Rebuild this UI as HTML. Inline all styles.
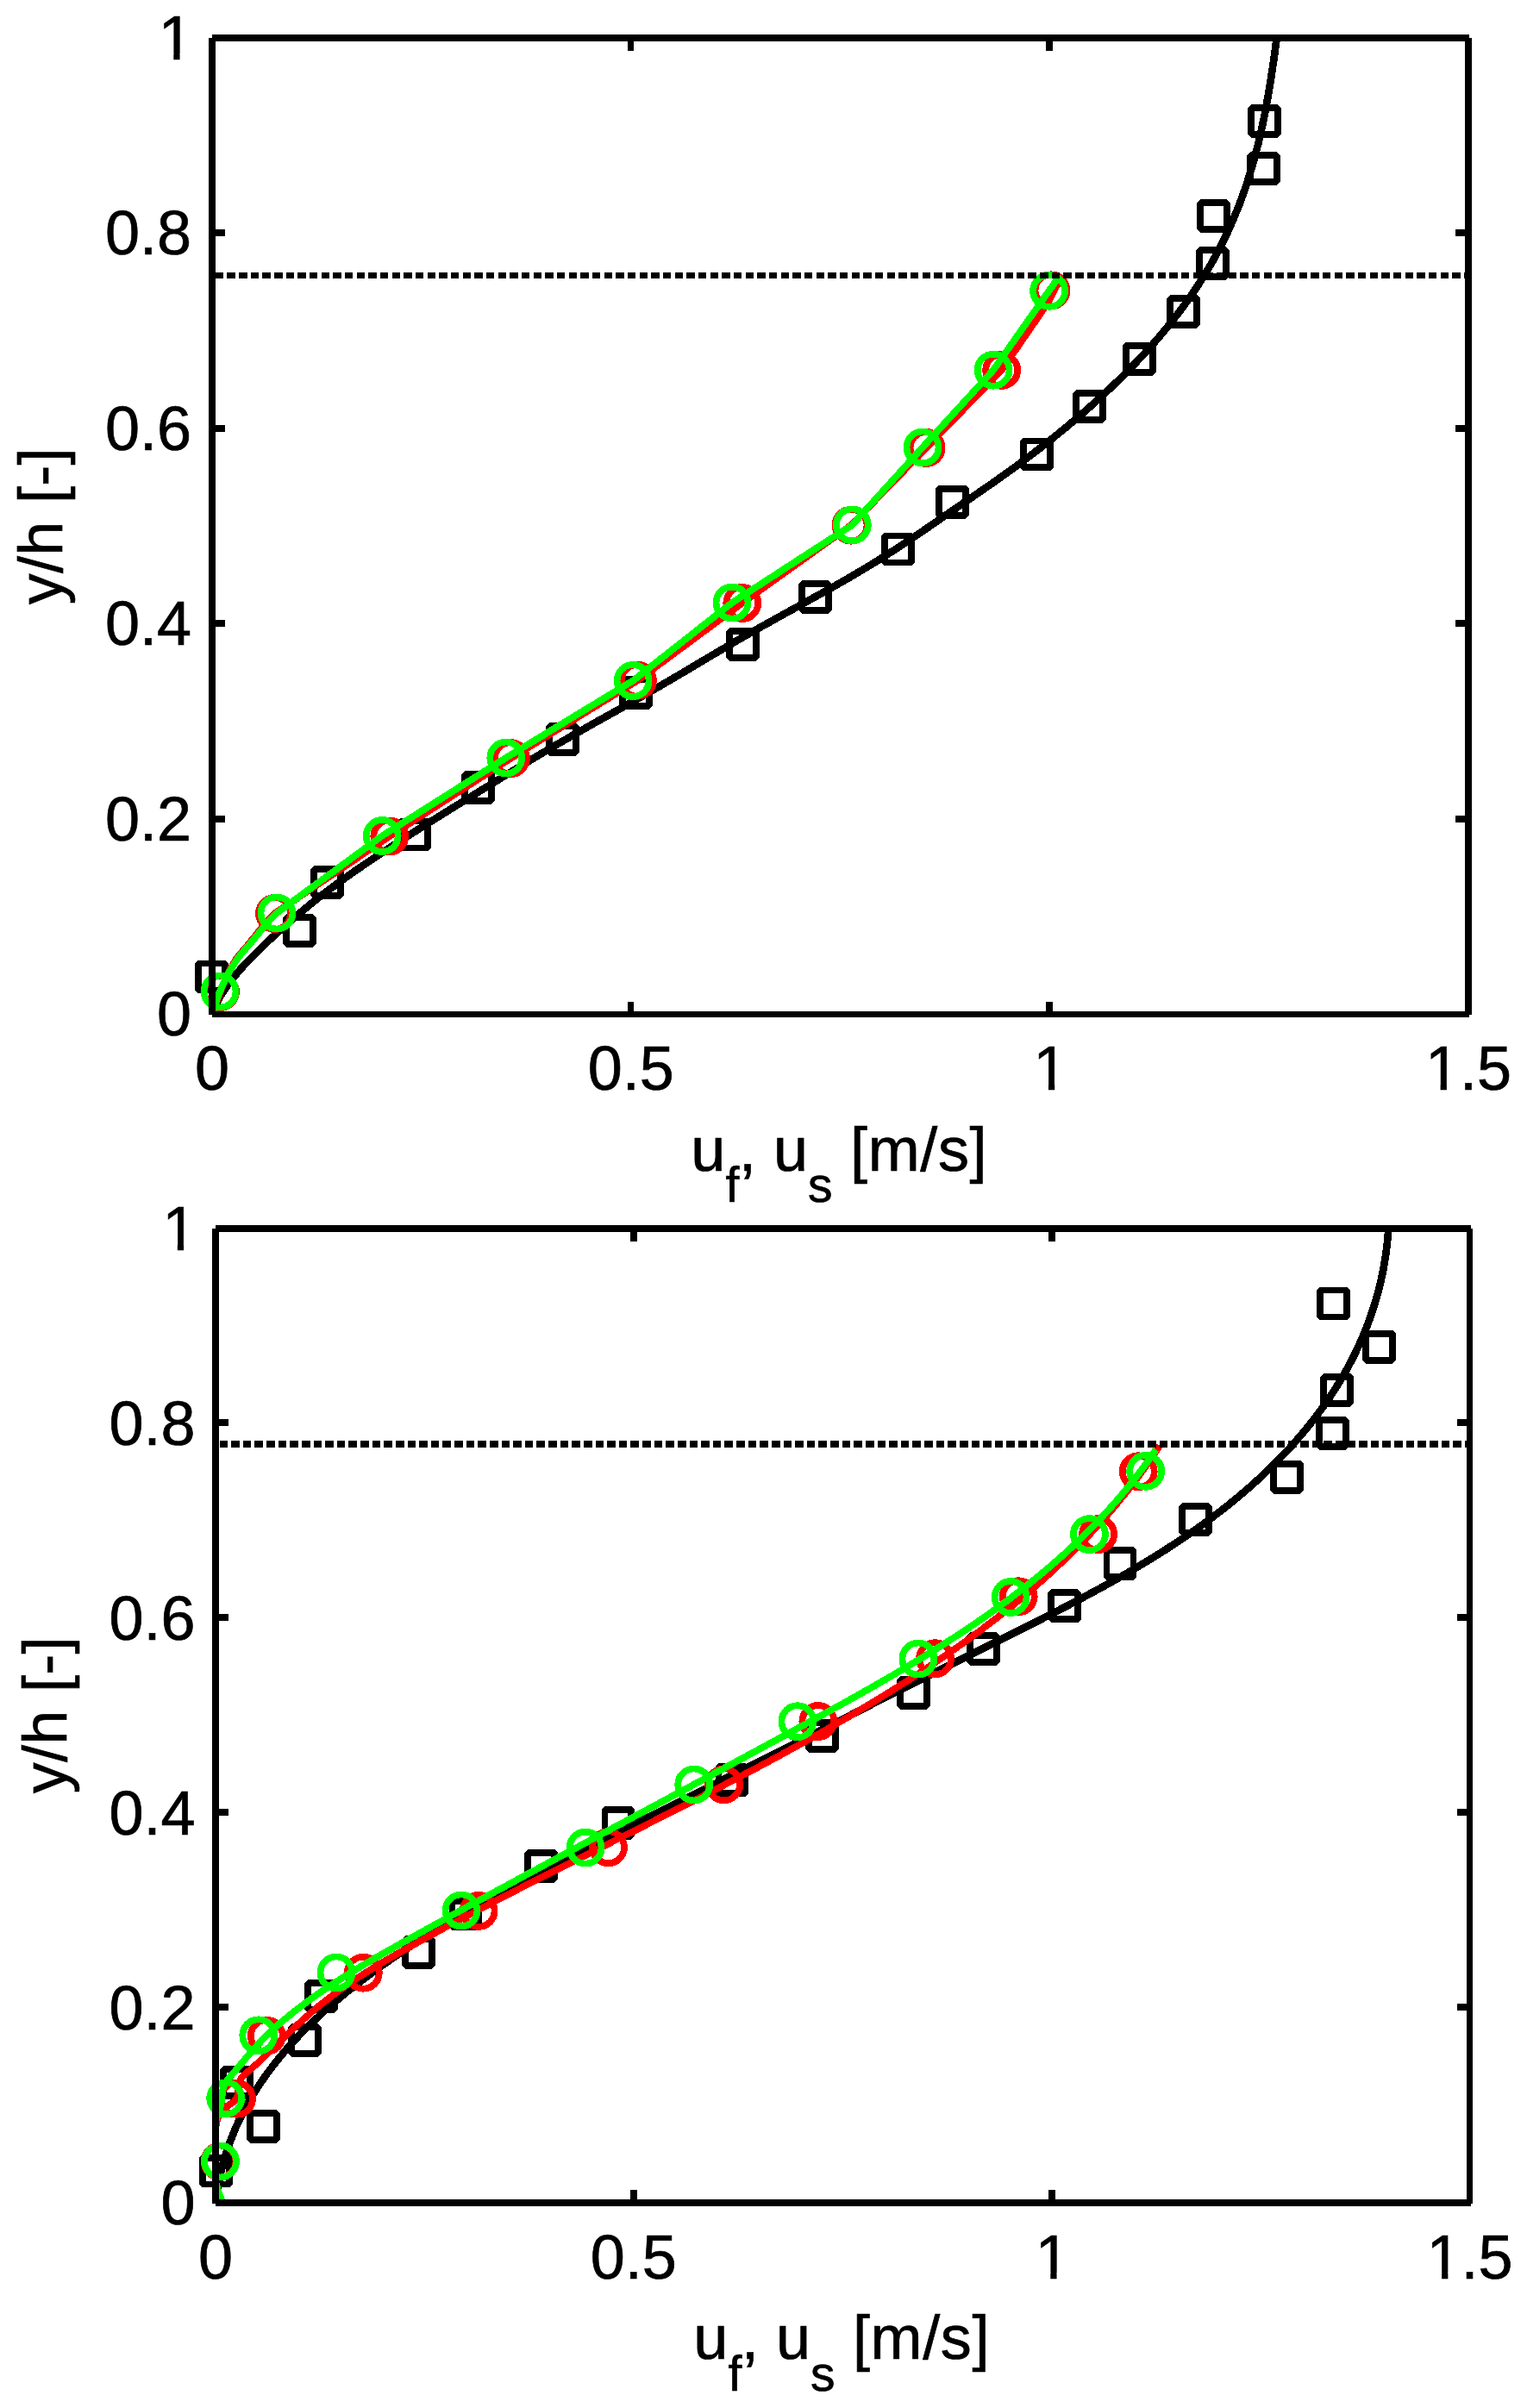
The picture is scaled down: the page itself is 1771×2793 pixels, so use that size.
<!DOCTYPE html>
<html lang="en"><head><meta charset="utf-8"><title>Velocity profiles</title>
<style>html,body{margin:0;padding:0;background:#fff}svg{display:block;font-family:"Liberation Sans",Arial,Helvetica,sans-serif}text{fill:#000;stroke:#000;stroke-width:.7px}</style></head><body>
<svg width="1771" height="2793" viewBox="0 0 1771 2793" font-family="Liberation Sans, Arial, Helvetica, sans-serif" font-size="72">
<rect width="1771" height="2793" fill="#fff"/>
<clipPath id="c0"><rect x="246" y="44" width="1457" height="1132.5"/></clipPath>
<g fill="none" stroke-linejoin="bevel" shape-rendering="crispEdges">
<path d="M245.9 1176.5L247.5 1172.1L249.3 1167.8L251.3 1163.4L253.6 1159.0L256.1 1154.6L258.8 1150.3L261.8 1145.9L264.9 1141.5L268.2 1137.1L271.7 1132.8L275.3 1128.4L279.1 1124.0L283.1 1119.7L287.2 1115.3L291.4 1110.9L295.7 1106.5L300.1 1102.2L304.6 1097.8L309.2 1093.4L313.9 1089.0L318.7 1084.7L323.5 1080.3L328.3 1075.9L333.3 1071.6L338.2 1067.2L343.3 1062.8L348.4 1058.4L353.7 1054.1L359.0 1049.7L364.4 1045.3L369.9 1040.9L375.6 1036.6L381.3 1032.2L387.2 1027.8L393.2 1023.5L399.2 1019.1L405.4 1014.7L411.6 1010.3L418.0 1006.0L424.4 1001.6L430.9 997.2L437.4 992.9L444.0 988.5L450.7 984.1L457.4 979.7L464.2 975.4L471.0 971.0L477.9 966.6L484.8 962.2L491.7 957.9L498.7 953.5L505.6 949.1L512.6 944.8L519.7 940.4L526.7 936.0L533.8 931.6L540.9 927.3L547.9 922.9L555.1 918.5L562.2 914.1L569.3 909.8L576.4 905.4L583.5 901.0L590.7 896.7L597.8 892.3L605.0 887.9L612.3 883.5L619.5 879.2L626.8 874.8L634.2 870.4L641.6 866.0L649.1 861.7L656.7 857.3L664.3 852.9L671.9 848.6L679.7 844.2L687.4 839.8L695.2 835.4L703.0 831.1L710.9 826.7L718.7 822.3L726.5 817.9L734.2 813.6L742.0 809.2L749.6 804.8L757.3 800.5L764.8 796.1L772.3 791.7L779.8 787.3L787.2 783.0L794.6 778.6L801.9 774.2L809.3 769.8L816.7 765.5L824.0 761.1L831.4 756.7L838.8 752.4L846.3 748.0L853.8 743.6L861.3 739.2L869.0 734.9L876.7 730.5L884.4 726.1L892.3 721.8L900.1 717.4L908.0 713.0L916.0 708.6L923.9 704.3L931.8 699.9L939.7 695.5L947.6 691.1L955.5 686.8L963.3 682.4L971.0 678.0L978.6 673.7L986.2 669.3L993.6 664.9L1001.0 660.5L1008.2 656.2L1015.4 651.8L1022.4 647.4L1029.3 643.0L1036.1 638.7L1042.9 634.3L1049.5 629.9L1056.0 625.6L1062.5 621.2L1069.0 616.8L1075.4 612.4L1081.7 608.1L1088.0 603.7L1094.4 599.3L1100.7 594.9L1107.1 590.6L1113.4 586.2L1119.8 581.8L1126.2 577.5L1132.6 573.1L1139.0 568.7L1145.3 564.3L1151.6 560.0L1157.8 555.6L1164.0 551.2L1170.1 546.8L1176.1 542.5L1182.0 538.1L1187.9 533.7L1193.7 529.4L1199.5 525.0L1205.2 520.6L1210.8 516.2L1216.4 511.9L1221.8 507.5L1227.3 503.1L1232.6 498.7L1237.9 494.4L1243.1 490.0L1248.3 485.6L1253.4 481.3L1258.4 476.9L1263.4 472.5L1268.3 468.1L1273.1 463.8L1277.9 459.4L1282.6 455.0L1287.3 450.7L1291.8 446.3L1296.3 441.9L1300.8 437.5L1305.2 433.2L1309.5 428.8L1313.7 424.4L1317.9 420.0L1322.1 415.7L1326.1 411.3L1330.1 406.9L1334.0 402.6L1337.9 398.2L1341.7 393.8L1345.5 389.4L1349.1 385.1L1352.8 380.7L1356.3 376.3L1359.8 371.9L1363.2 367.6L1366.6 363.2L1369.9 358.8L1373.1 354.5L1376.3 350.1L1379.4 345.7L1382.4 341.3L1385.4 337.0L1388.3 332.6L1391.2 328.2L1393.9 323.8L1396.7 319.5L1399.3 315.1L1401.9 310.7L1404.5 306.4L1407.0 302.0L1409.4 297.6L1411.8 293.2L1414.1 288.9L1416.3 284.5L1418.5 280.1L1420.7 275.7L1422.8 271.4L1424.8 267.0L1426.8 262.6L1428.7 258.3L1430.6 253.9L1432.4 249.5L1434.2 245.1L1436.0 240.8L1437.7 236.4L1439.3 232.0L1440.9 227.6L1442.5 223.3L1444.0 218.9L1445.5 214.5L1446.9 210.2L1448.3 205.8L1449.7 201.4L1451.0 197.0L1452.3 192.7L1453.5 188.3L1454.8 183.9L1455.9 179.6L1457.1 175.2L1458.2 170.8L1459.3 166.4L1460.3 162.1L1461.4 157.7L1462.4 153.3L1463.3 148.9L1464.3 144.6L1465.2 140.2L1466.1 135.8L1467.0 131.5L1467.8 127.1L1468.6 122.7L1469.4 118.3L1470.2 114.0L1471.0 109.6L1471.7 105.2L1472.5 100.8L1473.2 96.5L1473.9 92.1L1474.6 87.7L1475.2 83.4L1475.9 79.0L1476.5 74.6L1477.2 70.2L1477.8 65.9L1478.4 61.5L1479.0 57.1L1479.6 52.7L1480.2 48.4L1480.8 44.0" stroke="#000" stroke-width="8.7" stroke-linejoin="round" clip-path="url(#c0)"/>
<g stroke="#000" stroke-width="7.8"><rect x="230.1" y="1117.5" width="30.9" height="30.9"/><rect x="332.1" y="1064.0" width="30.9" height="30.9"/><rect x="364.1" y="1007.9" width="30.9" height="30.9"/><rect x="464.9" y="952.5" width="30.9" height="30.9"/><rect x="539.1" y="897.9" width="30.9" height="30.9"/><rect x="637.1" y="842.1" width="30.9" height="30.9"/><rect x="721.8" y="787.9" width="30.9" height="30.9"/><rect x="846.0" y="732.1" width="30.9" height="30.9"/><rect x="930.2" y="677.1" width="30.9" height="30.9"/><rect x="1026.2" y="621.5" width="30.9" height="30.9"/><rect x="1089.1" y="566.8" width="30.9" height="30.9"/><rect x="1187.0" y="511.4" width="30.9" height="30.9"/><rect x="1248.0" y="456.1" width="30.9" height="30.9"/><rect x="1306.0" y="400.7" width="30.9" height="30.9"/><rect x="1357.1" y="345.9" width="30.9" height="30.9"/><rect x="1391.0" y="290.2" width="30.9" height="30.9"/><rect x="1392.0" y="235.0" width="30.9" height="30.9"/><rect x="1450.1" y="180.1" width="30.9" height="30.9"/><rect x="1451.0" y="125.0" width="30.9" height="30.9"/></g>
<path d="M246.5 1176.5L247.4 1173.8L248.2 1171.1L249.1 1168.4L250.0 1165.7L251.0 1163.0L251.9 1160.3L252.9 1157.7L253.8 1155.0L254.8 1152.3L255.8 1149.7L256.8 1147.0L257.8 1144.4L258.9 1141.7L260.0 1139.1L261.1 1136.5L262.2 1133.9L263.4 1131.3L264.6 1128.8L265.9 1126.2L267.2 1123.7L268.6 1121.2L270.0 1118.7L271.5 1116.3L273.0 1113.9L274.6 1111.6L276.3 1109.4L278.1 1107.2L279.9 1105.0L281.7 1102.8L283.6 1100.6L285.5 1098.5L287.3 1096.3L289.1 1094.1L290.9 1091.9L292.7 1089.7L294.5 1087.4L296.3 1085.2L298.0 1082.9L299.8 1080.7L301.6 1078.4L303.4 1076.2L305.2 1074.0L307.0 1071.8L308.9 1069.6L310.7 1067.5L312.6 1065.4L314.5 1063.4L316.5 1061.4L318.5 1059.5L451.8 970.0L592.4 879.6L739.4 789.3L860.8 699.5L987.0 609.2L1074.1 519.5L1161.7 429.4L1214.2 352.9L1227.6 327.7L1232.5 319.0" stroke="#f00" stroke-width="8" stroke-linejoin="round" clip-path="url(#c0)"/>
<g stroke="#f00" stroke-width="7.8"><circle cx="255.5" cy="1150.5" r="18.5"/><circle cx="318.5" cy="1059.5" r="18.5"/><circle cx="451.8" cy="970.0" r="18.5"/><circle cx="592.4" cy="879.6" r="18.5"/><circle cx="739.4" cy="789.3" r="18.5"/><circle cx="860.8" cy="699.5" r="18.5"/><circle cx="987.0" cy="609.2" r="18.5"/><circle cx="1074.1" cy="519.5" r="18.5"/><circle cx="1161.7" cy="429.4" r="18.5"/><circle cx="1219.0" cy="336.8" r="18.5"/></g>
<path d="M246.0 1176.5L246.8 1173.7L247.6 1170.9L248.4 1168.2L249.3 1165.4L250.2 1162.7L251.2 1160.0L252.2 1157.3L253.2 1154.6L254.2 1151.9L255.3 1149.3L256.4 1146.6L257.6 1144.0L258.8 1141.4L260.1 1138.8L261.3 1136.2L262.7 1133.6L264.0 1131.1L265.4 1128.5L266.7 1126.0L268.1 1123.5L269.6 1121.0L271.1 1118.5L272.6 1116.1L274.2 1113.7L275.9 1111.4L277.6 1109.1L279.4 1106.9L281.3 1104.7L283.2 1102.5L285.1 1100.3L287.0 1098.2L288.9 1096.0L290.8 1093.8L292.7 1091.6L294.5 1089.4L296.3 1087.1L298.2 1084.9L300.0 1082.6L301.8 1080.4L303.7 1078.1L305.5 1075.9L307.4 1073.7L309.3 1071.5L311.2 1069.3L313.1 1067.2L315.0 1065.1L317.0 1063.0L319.0 1061.0L321.0 1059.0L443.2 969.5L586.8 879.0L734.1 789.5L849.0 699.1L988.3 608.9L1070.0 518.9L1152.1 429.2L1216.6 337.3L1229.5 319.5" stroke="#0f0" stroke-width="8" stroke-linejoin="round" clip-path="url(#c0)"/>
<g stroke="#0f0" stroke-width="7.8"><circle cx="255.0" cy="1150.0" r="18.5"/><circle cx="321.0" cy="1059.0" r="18.5"/><circle cx="443.2" cy="969.5" r="18.5"/><circle cx="586.8" cy="879.0" r="18.5"/><circle cx="734.1" cy="789.5" r="18.5"/><circle cx="849.0" cy="699.1" r="18.5"/><circle cx="988.3" cy="608.9" r="18.5"/><circle cx="1070.0" cy="518.9" r="18.5"/><circle cx="1152.1" cy="429.2" r="18.5"/><circle cx="1216.6" cy="337.3" r="18.5"/></g>
<path d="M249.8 319.5H1703" stroke="#000" stroke-width="7.3" stroke-dasharray="9.4 4.262"/>
</g>
<g fill="#000" shape-rendering="crispEdges">
<rect x="246" y="40.0" width="1458" height="8"/>
<rect x="246" y="1173" width="1458" height="7"/>
<rect x="242.0" y="44" width="8" height="1133.0"/>
<rect x="1699.0" y="44" width="8" height="1133.0"/>
<rect x="728" y="1162.0" width="7" height="14.5"/>
<rect x="728" y="44" width="7" height="14.5"/>
<rect x="1213" y="1162.0" width="8" height="14.5"/>
<rect x="1213" y="44" width="8" height="14.5"/>
<rect x="246" y="946" width="15" height="8"/>
<rect x="1688" y="946" width="15" height="8"/>
<rect x="246" y="719" width="15" height="8"/>
<rect x="1688" y="719" width="15" height="8"/>
<rect x="246" y="493" width="15" height="8"/>
<rect x="1688" y="493" width="15" height="8"/>
<rect x="246" y="266" width="15" height="8"/>
<rect x="1688" y="266" width="15" height="8"/>
</g>
<g text-anchor="end">
<text x="222.0" y="1201.1">0</text>
<text x="222.0" y="974.6">0.2</text>
<text x="222.0" y="748.1">0.4</text>
<text x="222.0" y="521.6">0.6</text>
<text x="222.0" y="295.1">0.8</text>
<text x="223.7" y="68.6">1</text>
</g><g text-anchor="middle">
<text x="246.0" y="1264.1">0</text>
<text x="731.7" y="1264.1">0.5</text>
<text x="1218.3" y="1264.1">1</text>
<text x="1703.0" y="1264.1">1.5</text>
</g>
<rect x="187.14" y="62.32" width="14.17" height="8" fill="#fff"/><rect x="208.58" y="62.32" width="13.61" height="8" fill="#fff"/>
<rect x="1201.80" y="1257.82" width="14.17" height="8" fill="#fff"/><rect x="1223.23" y="1257.82" width="13.61" height="8" fill="#fff"/>
<rect x="1656.44" y="1257.82" width="14.17" height="8" fill="#fff"/><rect x="1677.87" y="1257.82" width="13.61" height="8" fill="#fff"/>
<text transform="translate(72 610.2) rotate(-90)" text-anchor="middle" letter-spacing="0.3">y/h [-]</text>
<text y="1357.8"><tspan x="801.3">u</tspan><tspan x="841.6" y="1394.0" font-size="57">f</tspan><tspan x="857.0" y="1357.8">, u</tspan><tspan x="937.0" y="1394.0" font-size="57">s</tspan><tspan x="986.1" y="1357.8" letter-spacing="0.6">[m/s]</tspan></text>
<clipPath id="c1"><rect x="250" y="1425" width="1454.5" height="1130"/></clipPath>
<g fill="none" stroke-linejoin="bevel" shape-rendering="crispEdges">
<path d="M250.1 2557.8L250.6 2553.2L250.8 2551.3L251.1 2548.6L251.6 2544.9L251.7 2544.1L252.3 2539.6L252.5 2538.6L253.1 2535.1L253.6 2532.3L253.9 2530.7L254.7 2526.3L254.8 2526.0L255.7 2521.9L256.1 2519.9L256.7 2517.5L257.6 2513.8L257.8 2513.2L258.9 2508.9L259.2 2507.7L260.1 2504.6L261.0 2501.7L261.4 2500.4L262.7 2496.2L262.8 2495.8L264.1 2492.0L264.8 2489.9L265.5 2487.9L266.9 2484.1L267.0 2483.7L268.6 2479.7L269.1 2478.3L270.2 2475.6L271.4 2472.6L271.9 2471.5L273.6 2467.5L273.9 2466.9L275.4 2463.6L276.4 2461.3L277.3 2459.6L279.1 2455.8L279.2 2455.7L281.1 2451.8L281.9 2450.3L283.1 2447.9L284.7 2444.9L285.2 2444.1L287.3 2440.3L287.7 2439.5L289.4 2436.5L290.8 2434.2L291.6 2432.7L293.9 2429.0L293.9 2428.9L296.2 2425.3L297.2 2423.7L298.5 2421.6L300.5 2418.6L300.9 2418.0L303.3 2414.4L304.0 2413.5L305.8 2410.8L307.5 2408.4L308.3 2407.2L310.9 2403.7L311.1 2403.4L313.5 2400.2L314.8 2398.5L316.1 2396.7L318.5 2393.6L318.8 2393.3L321.5 2389.8L322.3 2388.8L324.3 2386.5L326.3 2384.0L327.1 2383.1L329.9 2379.7L330.2 2379.3L332.7 2376.4L334.3 2374.7L335.6 2373.2L338.4 2370.1L338.6 2369.9L341.5 2366.7L342.6 2365.5L344.5 2363.5L346.8 2361.0L347.5 2360.3L350.6 2357.1L351.1 2356.6L353.6 2354.0L355.5 2352.2L356.7 2350.9L359.9 2347.9L359.9 2347.8L363.0 2344.8L364.3 2343.6L366.2 2341.8L368.9 2339.3L369.4 2338.8L372.7 2335.8L373.4 2335.1L378.0 2331.0L382.7 2326.9L387.4 2322.8L392.2 2318.8L397.0 2314.8L401.8 2310.9L406.7 2307.0L411.6 2303.2L416.5 2299.4L421.5 2295.6L426.5 2291.9L431.5 2288.1L436.6 2284.5L441.6 2280.8L446.7 2277.2L451.9 2273.7L457.0 2270.1L462.2 2266.6L467.4 2263.1L472.6 2259.7L477.8 2256.2L483.0 2252.8L488.3 2249.5L493.5 2246.1L498.8 2242.8L504.1 2239.5L509.5 2236.2L514.8 2233.0L520.2 2229.8L525.5 2226.6L530.9 2223.4L536.3 2220.2L541.7 2217.1L547.1 2214.0L552.6 2210.9L558.0 2207.8L563.5 2204.7L568.9 2201.7L574.4 2198.7L579.9 2195.7L585.4 2192.7L590.9 2189.7L596.4 2186.7L601.9 2183.8L607.4 2180.9L613.0 2177.9L618.5 2175.0L624.1 2172.1L629.6 2169.3L635.2 2166.4L640.7 2163.5L646.3 2160.7L651.9 2157.8L657.4 2155.0L663.0 2152.2L668.6 2149.4L674.2 2146.6L679.8 2143.8L685.4 2141.0L690.9 2138.2L696.5 2135.4L702.1 2132.6L707.7 2129.8L713.3 2127.0L718.9 2124.3L724.4 2121.5L730.0 2118.7L735.6 2115.9L741.2 2113.2L746.7 2110.4L752.3 2107.6L757.8 2104.9L763.4 2102.1L768.9 2099.3L774.5 2096.5L780.0 2093.8L785.6 2091.0L791.1 2088.2L796.7 2085.4L802.2 2082.7L807.7 2079.9L813.2 2077.1L818.8 2074.3L824.3 2071.5L829.8 2068.8L835.3 2066.0L840.8 2063.2L846.3 2060.4L851.8 2057.6L857.4 2054.8L862.9 2052.1L868.4 2049.3L873.9 2046.5L879.4 2043.7L884.9 2040.9L890.4 2038.1L895.9 2035.3L901.4 2032.6L906.9 2029.8L912.4 2027.0L917.9 2024.2L923.4 2021.4L928.9 2018.6L934.4 2015.8L939.9 2013.0L945.4 2010.2L950.9 2007.4L956.4 2004.7L961.9 2001.9L967.4 1999.1L972.9 1996.3L978.4 1993.5L983.9 1990.7L989.4 1987.9L994.9 1985.1L1000.4 1982.3L1005.9 1979.5L1011.4 1976.7L1016.9 1973.9L1022.5 1971.1L1028.0 1968.4L1033.5 1965.6L1039.0 1962.8L1044.5 1960.0L1050.1 1957.2L1055.6 1954.4L1061.1 1951.6L1066.7 1948.8L1072.2 1946.0L1077.8 1943.2L1083.3 1940.4L1088.9 1937.6L1094.4 1934.8L1100.0 1932.0L1105.5 1929.2L1111.1 1926.4L1116.7 1923.6L1122.3 1920.9L1127.8 1918.1L1133.4 1915.3L1139.0 1912.5L1144.6 1909.7L1150.2 1906.9L1155.8 1904.1L1161.4 1901.3L1167.0 1898.5L1172.7 1895.7L1178.3 1892.9L1183.9 1890.1L1189.5 1887.3L1195.1 1884.4L1200.7 1881.6L1206.3 1878.8L1211.9 1875.9L1217.5 1873.1L1223.1 1870.2L1228.7 1867.3L1234.2 1864.4L1239.8 1861.5L1245.4 1858.6L1250.9 1855.7L1256.5 1852.7L1262.0 1849.7L1267.5 1846.8L1273.0 1843.8L1278.5 1840.8L1284.0 1837.7L1289.5 1834.7L1294.9 1831.6L1300.4 1828.5L1305.8 1825.4L1311.2 1822.2L1316.6 1819.1L1321.9 1815.9L1327.3 1812.7L1332.6 1809.4L1337.9 1806.2L1343.2 1802.9L1348.5 1799.6L1353.7 1796.2L1358.9 1792.8L1364.1 1789.4L1369.3 1786.0L1374.4 1782.5L1379.5 1779.0L1384.6 1775.5L1389.7 1771.9L1394.7 1768.3L1399.7 1764.6L1404.7 1761.0L1409.6 1757.2L1414.5 1753.5L1419.4 1749.7L1424.3 1745.9L1429.1 1742.0L1433.8 1738.1L1438.6 1734.1L1443.3 1730.1L1447.9 1726.1L1452.6 1722.0L1457.1 1717.9L1461.7 1713.7L1466.2 1709.5L1470.6 1705.2L1475.0 1700.9L1479.4 1696.6L1483.7 1692.2L1488.0 1687.8L1492.2 1683.3L1496.4 1678.8L1500.5 1674.2L1504.5 1669.6L1508.5 1665.0L1512.5 1660.3L1516.4 1655.5L1520.2 1650.7L1524.0 1645.9L1527.7 1641.0L1531.3 1636.1L1534.9 1631.2L1538.4 1626.2L1541.9 1621.1L1545.2 1616.0L1548.6 1610.9L1551.8 1605.7L1555.0 1600.5L1558.1 1595.2L1561.1 1589.9L1564.0 1584.5L1566.9 1579.1L1569.7 1573.6L1572.4 1568.1L1575.0 1562.6L1577.6 1557.0L1580.1 1551.3L1582.5 1545.6L1584.8 1539.9L1587.0 1534.1L1589.1 1528.3L1591.1 1522.4L1593.1 1516.5L1594.9 1510.5L1596.7 1504.5L1598.4 1498.4L1599.9 1492.3L1601.4 1486.1L1602.8 1479.9L1604.1 1473.6L1605.2 1467.3L1606.3 1461.0L1607.3 1454.6L1608.1 1448.1L1608.9 1441.6L1609.6 1435.1L1610.1 1428.5L1610.5 1421.8L1610.9 1415.1" stroke="#000" stroke-width="8.7" stroke-linejoin="round" clip-path="url(#c1)"/>
<g stroke="#000" stroke-width="7.8"><rect x="235.1" y="2502.6" width="30.9" height="30.9"/><rect x="290.2" y="2451.1" width="30.9" height="30.9"/><rect x="259.2" y="2400.1" width="30.9" height="30.9"/><rect x="338.2" y="2351.1" width="30.9" height="30.9"/><rect x="357.1" y="2300.0" width="30.9" height="30.9"/><rect x="470.2" y="2249.1" width="30.9" height="30.9"/><rect x="524.5" y="2204.6" width="30.9" height="30.9"/><rect x="612.3" y="2149.0" width="30.9" height="30.9"/><rect x="701.4" y="2098.9" width="30.9" height="30.9"/><rect x="833.4" y="2049.1" width="30.9" height="30.9"/><rect x="937.8" y="1997.8" width="30.9" height="30.9"/><rect x="1044.0" y="1948.2" width="30.9" height="30.9"/><rect x="1125.1" y="1897.1" width="30.9" height="30.9"/><rect x="1219.3" y="1847.3" width="30.9" height="30.9"/><rect x="1283.5" y="1798.0" width="30.9" height="30.9"/><rect x="1371.1" y="1747.0" width="30.9" height="30.9"/><rect x="1477.2" y="1698.0" width="30.9" height="30.9"/><rect x="1530.1" y="1647.0" width="30.9" height="30.9"/><rect x="1535.2" y="1596.8" width="30.9" height="30.9"/><rect x="1584.1" y="1546.8" width="30.9" height="30.9"/><rect x="1531.0" y="1496.5" width="30.9" height="30.9"/></g>
<path d="M251.0 2557.0L250.8 2552.9L250.8 2552.4L250.7 2548.6L250.6 2547.7L250.5 2544.4L250.5 2542.9L250.4 2540.1L250.4 2538.1L250.3 2535.7L250.3 2533.2L250.2 2531.2L250.2 2528.2L250.2 2526.8L250.1 2523.2L250.1 2522.3L250.1 2518.2L250.1 2517.8L250.0 2513.3L250.0 2513.2L250.0 2508.7L250.0 2508.1L250.0 2504.2L250.0 2503.1L250.0 2499.6L250.0 2498.0L250.0 2495.1L250.0 2493.0L250.0 2490.6L250.0 2488.0L250.0 2486.2L250.0 2483.1L250.0 2481.7L250.0 2478.2L250.0 2477.3L250.0 2473.3L250.0 2473.0L250.2 2468.7L250.2 2468.6L250.7 2464.5L250.8 2463.9L251.6 2460.3L251.9 2459.2L253.0 2456.2L253.7 2454.7L255.0 2452.3L256.2 2450.4L257.7 2448.5L259.5 2446.4L260.9 2445.1L263.5 2443.0L264.6 2442.2L267.7 2440.1L268.4 2439.6L271.6 2437.2L271.8 2437.0L274.3 2433.9L274.4 2433.8L275.7 2430.2L275.8 2429.5L276.2 2426.0L276.3 2424.7L276.5 2421.5L276.7 2419.8L277.1 2417.1L277.6 2414.9L278.4 2412.9L279.8 2410.6L280.9 2409.3L283.1 2406.8L284.0 2405.9L287.0 2403.3L287.6 2402.9L290.9 2400.0L291.1 2399.9L294.4 2396.9L294.6 2396.7L297.6 2394.0L298.2 2393.5L300.8 2391.1L301.7 2390.2L303.8 2388.2L305.0 2387.0L306.8 2385.2L308.4 2383.7L309.8 2382.3L311.8 2380.4L312.9 2379.3L315.1 2377.1L315.9 2376.3L318.6 2373.8L319.0 2373.3L322.0 2370.4L322.1 2370.3L325.3 2367.2L325.5 2367.0L328.5 2364.2L329.1 2363.6L331.7 2361.1L332.6 2360.2L334.9 2358.0L336.2 2356.7L338.1 2354.9L339.9 2353.3L341.4 2351.9L343.5 2349.9L344.7 2348.8L347.2 2346.5L348.0 2345.8L350.9 2343.1L351.4 2342.7L354.7 2339.8L354.7 2339.7L358.4 2336.4L362.2 2333.2L366.1 2329.9L369.9 2326.7L373.8 2323.6L377.7 2320.5L381.6 2317.5L385.5 2314.5L389.5 2311.6L393.5 2308.7L397.5 2305.8L401.5 2303.0L405.6 2300.2L409.6 2297.5L413.7 2294.8L417.8 2292.2L421.9 2289.5L426.0 2286.9L430.1 2284.4L434.3 2281.8L438.5 2279.3L442.6 2276.8L446.8 2274.3L451.0 2271.9L455.2 2269.5L459.4 2267.0L463.6 2264.6L467.9 2262.3L472.1 2259.9L476.3 2257.5L480.6 2255.2L484.8 2252.8L489.1 2250.5L493.3 2248.1L497.6 2245.8L501.8 2243.5L506.1 2241.2L510.4 2238.8L514.6 2236.5L518.9 2234.2L523.2 2231.9L527.5 2229.6L531.8 2227.4L536.1 2225.1L540.4 2222.8L544.7 2220.5L549.0 2218.3L553.3 2216.0L557.6 2213.7L561.9 2211.5L566.2 2209.2L570.5 2207.0L574.8 2204.8L579.2 2202.5L583.5 2200.3L587.8 2198.0L592.1 2195.8L596.5 2193.6L600.8 2191.4L605.1 2189.2L609.5 2186.9L613.8 2184.7L618.2 2182.5L622.5 2180.3L626.9 2178.1L631.2 2175.9L635.6 2173.7L639.9 2171.5L644.3 2169.3L648.6 2167.1L653.0 2164.9L657.4 2162.7L661.7 2160.5L666.1 2158.3L670.4 2156.1L674.8 2153.9L679.2 2151.8L683.5 2149.6L687.9 2147.4L692.3 2145.2L696.7 2143.0L701.0 2140.8L705.4 2138.6L709.8 2136.4L714.1 2134.2L718.5 2132.0L722.9 2129.8L727.3 2127.6L731.6 2125.5L736.0 2123.3L740.4 2121.1L744.8 2118.9L749.2 2116.7L753.5 2114.5L757.9 2112.3L762.3 2110.0L766.7 2107.8L771.0 2105.6L775.4 2103.4L779.8 2101.2L784.2 2099.0L788.5 2096.8L792.9 2094.5L797.3 2092.3L801.6 2090.1L806.0 2087.8L810.4 2085.6L814.8 2083.4L819.1 2081.1L823.5 2078.9L827.9 2076.6L832.2 2074.4L836.6 2072.1L840.9 2069.8L845.3 2067.5L849.7 2065.3L854.0 2063.0L858.4 2060.7L862.7 2058.4L867.1 2056.1L871.4 2053.8L875.8 2051.5L880.1 2049.2L884.5 2046.9L888.8 2044.5L893.1 2042.2L897.5 2039.9L901.8 2037.5L906.1 2035.2L910.5 2032.8L914.8 2030.4L919.1 2028.1L923.4 2025.7L927.8 2023.3L932.1 2020.9L936.4 2018.5L940.7 2016.1L945.0 2013.7L949.3 2011.3L953.6 2008.8L957.9 2006.4L962.2 2003.9L966.5 2001.5L970.8 1999.0L975.1 1996.5L979.3 1994.0L983.6 1991.6L987.9 1989.1L992.1 1986.5L996.4 1984.0L1000.6 1981.5L1004.9 1978.9L1009.1 1976.4L1013.4 1973.8L1017.6 1971.3L1021.8 1968.7L1026.0 1966.1L1030.2 1963.5L1034.4 1960.9L1038.6 1958.2L1042.8 1955.6L1047.0 1953.0L1051.2 1950.3L1055.3 1947.6L1059.5 1944.9L1063.6 1942.3L1067.8 1939.6L1071.9 1936.8L1076.0 1934.1L1080.1 1931.4L1084.2 1928.6L1088.3 1925.8L1092.3 1923.1L1096.4 1920.3L1100.5 1917.5L1104.5 1914.7L1108.5 1911.8L1112.5 1909.0L1116.6 1906.1L1120.5 1903.3L1124.5 1900.4L1128.5 1897.5L1132.4 1894.6L1136.4 1891.6L1140.3 1888.7L1144.2 1885.7L1148.1 1882.8L1152.0 1879.8L1155.9 1876.8L1159.7 1873.8L1163.6 1870.7L1167.4 1867.7L1171.2 1864.6L1175.0 1861.6L1178.8 1858.5L1182.6 1855.4L1186.3 1852.2L1190.0 1849.1L1193.8 1845.9L1197.5 1842.8L1201.1 1839.6L1204.8 1836.4L1208.4 1833.2L1212.1 1829.9L1215.7 1826.7L1219.3 1823.4L1222.8 1820.1L1226.4 1816.8L1229.9 1813.5L1233.4 1810.1L1236.9 1806.8L1240.4 1803.4L1243.9 1800.0L1247.3 1796.6L1250.7 1793.1L1254.1 1789.7L1257.5 1786.2L1260.8 1782.7L1264.2 1779.2L1267.5 1775.7L1270.8 1772.1L1274.0 1768.6L1277.3 1765.0L1280.5 1761.4L1283.7 1757.8L1286.9 1754.1L1290.0 1750.5L1293.1 1746.8L1296.2 1743.1L1299.3 1739.3L1302.4 1735.6L1305.4 1731.8L1308.4 1728.0L1311.4 1724.2L1314.3 1720.4L1317.3 1716.5L1320.2 1712.7L1323.0 1708.8L1325.9 1704.9L1328.7 1700.9L1331.5 1697.0L1334.3 1693.0L1337.0 1689.0L1339.7 1684.9L1342.4 1680.9L1345.1 1676.8" stroke="#f00" stroke-width="8" stroke-linejoin="round" clip-path="url(#c1)"/>
<g stroke="#f00" stroke-width="7.8"><circle cx="255.0" cy="2507.0" r="18.5"/><circle cx="274.5" cy="2434.3" r="18.5"/><circle cx="309.3" cy="2361.3" r="18.5"/><circle cx="421.3" cy="2288.2" r="18.5"/><circle cx="555.1" cy="2216.4" r="18.5"/><circle cx="705.5" cy="2142.7" r="18.5"/><circle cx="839.6" cy="2069.8" r="18.5"/><circle cx="948.9" cy="1996.5" r="18.5"/><circle cx="1084.6" cy="1923.7" r="18.5"/><circle cx="1181.2" cy="1851.7" r="18.5"/><circle cx="1273.6" cy="1779.5" r="18.5"/><circle cx="1320.2" cy="1706.7" r="18.5"/></g>
<path d="M259.5 2557.1L257.6 2553.0L257.4 2552.5L255.8 2548.9L255.5 2547.9L254.3 2544.7L253.8 2543.3L252.9 2540.5L252.3 2538.6L251.6 2536.3L251.0 2533.9L250.5 2532.0L249.8 2529.2L249.5 2527.8L248.9 2524.4L248.7 2523.4L248.1 2519.6L248.0 2519.1L247.4 2514.8L247.4 2514.8L247.0 2510.4L247.0 2509.9L246.7 2506.0L246.6 2505.1L246.5 2501.7L246.5 2500.2L246.4 2497.3L246.4 2495.3L246.5 2492.9L246.5 2490.4L246.6 2488.5L246.7 2485.5L246.8 2484.1L247.1 2480.7L247.2 2479.7L247.5 2475.8L247.6 2475.3L248.1 2470.9L248.1 2470.9L248.9 2466.6L249.0 2466.1L249.9 2462.2L250.1 2461.3L251.1 2457.9L251.6 2456.5L252.6 2453.6L253.3 2451.7L254.1 2449.3L254.8 2447.0L255.3 2445.1L255.9 2442.2L256.2 2440.9L256.7 2437.5L256.9 2436.6L257.3 2432.8L257.3 2432.3L257.8 2428.0L257.8 2427.9L258.4 2423.7L258.5 2423.2L259.6 2419.6L260.0 2418.7L261.5 2415.7L262.3 2414.5L264.1 2412.1L265.4 2410.5L267.0 2408.6L268.7 2406.7L270.0 2405.2L272.0 2402.9L272.9 2401.8L275.2 2399.2L275.8 2398.4L278.4 2395.4L278.7 2395.1L281.5 2391.7L281.5 2391.6L284.3 2388.3L284.6 2387.9L287.0 2385.0L287.7 2384.2L289.9 2381.7L290.8 2380.6L292.7 2378.4L294.0 2376.9L295.6 2375.2L297.3 2373.4L298.6 2372.0L300.6 2369.8L301.6 2368.8L303.9 2366.4L304.6 2365.7L307.4 2362.9L307.7 2362.6L310.8 2359.6L310.8 2359.5L314.0 2356.5L314.4 2356.2L317.2 2353.6L317.9 2352.9L320.4 2350.6L321.6 2349.6L323.7 2347.7L325.2 2346.4L327.0 2344.8L328.9 2343.2L330.4 2342.0L332.7 2340.1L333.8 2339.2L336.5 2337.0L337.2 2336.4L340.3 2333.9L340.6 2333.6L344.2 2330.9L348.0 2327.9L352.0 2324.9L355.9 2322.0L359.9 2319.1L363.9 2316.2L367.9 2313.4L371.9 2310.6L376.0 2307.8L380.1 2305.1L384.2 2302.4L388.3 2299.7L392.4 2297.1L396.5 2294.4L400.7 2291.8L404.8 2289.2L409.0 2286.7L413.2 2284.1L417.4 2281.6L421.6 2279.1L425.9 2276.6L430.1 2274.1L434.3 2271.6L438.6 2269.2L442.8 2266.7L447.1 2264.3L451.4 2261.9L455.6 2259.5L459.9 2257.1L464.2 2254.7L468.5 2252.3L472.8 2249.9L477.1 2247.6L481.4 2245.2L485.6 2242.8L489.9 2240.4L494.2 2238.1L498.5 2235.7L502.8 2233.3L507.1 2231.0L511.4 2228.6L515.7 2226.3L519.9 2223.9L524.2 2221.5L528.5 2219.2L532.8 2216.8L537.1 2214.5L541.4 2212.1L545.7 2209.8L550.0 2207.4L554.3 2205.1L558.5 2202.8L562.8 2200.4L567.1 2198.1L571.4 2195.7L575.7 2193.4L580.0 2191.1L584.3 2188.7L588.6 2186.4L592.9 2184.1L597.2 2181.7L601.5 2179.4L605.7 2177.1L610.0 2174.7L614.3 2172.4L618.6 2170.1L622.9 2167.8L627.2 2165.4L631.5 2163.1L635.8 2160.8L640.1 2158.5L644.4 2156.2L648.7 2153.8L653.0 2151.5L657.3 2149.2L661.6 2146.9L665.8 2144.6L670.1 2142.2L674.4 2139.9L678.7 2137.6L683.0 2135.3L687.3 2133.0L691.6 2130.7L695.9 2128.4L700.2 2126.0L704.5 2123.7L708.8 2121.4L713.1 2119.1L717.4 2116.8L721.7 2114.5L726.0 2112.2L730.3 2109.9L734.6 2107.5L738.9 2105.2L743.2 2102.9L747.5 2100.6L751.8 2098.3L756.1 2096.0L760.4 2093.7L764.7 2091.4L769.0 2089.0L773.3 2086.7L777.6 2084.4L781.9 2082.1L786.2 2079.8L790.5 2077.5L794.8 2075.2L799.1 2072.8L803.4 2070.5L807.7 2068.2L812.0 2065.9L816.3 2063.6L820.6 2061.3L824.9 2058.9L829.2 2056.6L833.5 2054.3L837.8 2052.0L842.1 2049.6L846.4 2047.3L850.7 2045.0L855.0 2042.7L859.3 2040.3L863.7 2038.0L868.0 2035.7L872.3 2033.4L876.6 2031.0L880.9 2028.7L885.2 2026.4L889.5 2024.0L893.8 2021.7L898.1 2019.4L902.4 2017.0L906.7 2014.7L911.0 2012.3L915.4 2010.0L919.7 2007.6L924.0 2005.3L928.3 2003.0L932.6 2000.6L936.9 1998.2L941.2 1995.9L945.5 1993.5L949.8 1991.2L954.2 1988.8L958.5 1986.5L962.8 1984.1L967.1 1981.7L971.4 1979.3L975.7 1977.0L980.0 1974.6L984.3 1972.2L988.6 1969.8L992.8 1967.4L997.1 1965.0L1001.4 1962.6L1005.7 1960.1L1010.0 1957.7L1014.2 1955.3L1018.5 1952.8L1022.8 1950.4L1027.0 1947.9L1031.2 1945.5L1035.5 1943.0L1039.7 1940.5L1044.0 1938.0L1048.2 1935.5L1052.4 1933.0L1056.6 1930.5L1060.8 1928.0L1065.0 1925.4L1069.2 1922.9L1073.3 1920.3L1077.5 1917.7L1081.7 1915.2L1085.8 1912.6L1090.0 1910.0L1094.1 1907.3L1098.2 1904.7L1102.3 1902.1L1106.4 1899.4L1110.5 1896.7L1114.6 1894.1L1118.6 1891.4L1122.7 1888.6L1126.7 1885.9L1130.8 1883.2L1134.8 1880.4L1138.8 1877.7L1142.8 1874.9L1146.8 1872.1L1150.7 1869.2L1154.7 1866.4L1158.6 1863.6L1162.5 1860.7L1166.5 1857.8L1170.4 1854.9L1174.2 1852.0L1178.1 1849.0L1181.9 1846.1L1185.8 1843.1L1189.6 1840.1L1193.4 1837.1L1197.2 1834.1L1201.0 1831.0L1204.7 1827.9L1208.5 1824.9L1212.2 1821.7L1215.9 1818.6L1219.6 1815.4L1223.2 1812.3L1226.9 1809.1L1230.5 1805.9L1234.1 1802.6L1237.7 1799.3L1241.3 1796.1L1244.8 1792.7L1248.3 1789.4L1251.8 1786.1L1255.3 1782.7L1258.8 1779.3L1262.2 1775.8L1265.7 1772.4L1269.1 1768.9L1272.4 1765.4L1275.8 1761.9L1279.1 1758.3L1282.5 1754.7L1285.7 1751.1L1289.0 1747.5L1292.3 1743.8L1295.5 1740.1L1298.7 1736.4L1301.8 1732.7L1305.0 1728.9L1308.1 1725.1L1311.2 1721.3L1314.3 1717.4L1317.3 1713.5L1320.3 1709.6L1323.3 1705.7L1326.3 1701.7L1329.2 1697.7L1332.2 1693.6L1335.0 1689.6L1337.9 1685.5L1340.7 1681.4" stroke="#0f0" stroke-width="8" stroke-linejoin="round" clip-path="url(#c1)"/>
<g stroke="#0f0" stroke-width="7.8"><circle cx="255.5" cy="2507.0" r="18.5"/><circle cx="261.7" cy="2433.8" r="18.5"/><circle cx="299.8" cy="2360.8" r="18.5"/><circle cx="390.0" cy="2287.9" r="18.5"/><circle cx="535.0" cy="2215.9" r="18.5"/><circle cx="679.1" cy="2143.1" r="18.5"/><circle cx="804.7" cy="2070.0" r="18.5"/><circle cx="924.9" cy="1996.7" r="18.5"/><circle cx="1064.9" cy="1924.0" r="18.5"/><circle cx="1172.1" cy="1852.5" r="18.5"/><circle cx="1263.4" cy="1779.6" r="18.5"/><circle cx="1328.7" cy="1706.3" r="18.5"/></g>
<path d="M254.5 1675H1704.5" stroke="#000" stroke-width="7.9" stroke-dasharray="9.65 3.975"/>
</g>
<g fill="#000" shape-rendering="crispEdges">
<rect x="250" y="1421.0" width="1455.5" height="8"/>
<rect x="250" y="2551.0" width="1455.5" height="8"/>
<rect x="246.0" y="1425" width="8" height="1130.5"/>
<rect x="1701.0" y="1425" width="7" height="1130.5"/>
<rect x="731" y="2540" width="8" height="15"/>
<rect x="731" y="1425" width="8" height="15"/>
<rect x="1216" y="2540" width="8" height="15"/>
<rect x="1216" y="1425" width="8" height="15"/>
<rect x="250" y="2324" width="15" height="8"/>
<rect x="1689.5" y="2324" width="15" height="8"/>
<rect x="250" y="2098" width="15" height="8"/>
<rect x="1689.5" y="2098" width="15" height="8"/>
<rect x="250" y="1872" width="15" height="8"/>
<rect x="1689.5" y="1872" width="15" height="8"/>
<rect x="250" y="1646" width="15" height="8"/>
<rect x="1689.5" y="1646" width="15" height="8"/>
</g>
<g text-anchor="end">
<text x="226.5" y="2579.6">0</text>
<text x="226.5" y="2353.6">0.2</text>
<text x="226.5" y="2127.6">0.4</text>
<text x="226.5" y="1901.6">0.6</text>
<text x="226.5" y="1675.6">0.8</text>
<text x="228.2" y="1449.6">1</text>
</g><g text-anchor="middle">
<text x="250.0" y="2642.6">0</text>
<text x="734.8" y="2642.6">0.5</text>
<text x="1220.7" y="2642.6">1</text>
<text x="1704.5" y="2642.6">1.5</text>
</g>
<rect x="191.64" y="1443.32" width="14.17" height="8" fill="#fff"/><rect x="213.08" y="1443.32" width="13.61" height="8" fill="#fff"/>
<rect x="1204.13" y="2636.32" width="14.17" height="8" fill="#fff"/><rect x="1225.56" y="2636.32" width="13.61" height="8" fill="#fff"/>
<rect x="1657.94" y="2636.32" width="14.17" height="8" fill="#fff"/><rect x="1679.37" y="2636.32" width="13.61" height="8" fill="#fff"/>
<text transform="translate(77 1989.2) rotate(-90)" text-anchor="middle" letter-spacing="0.3">y/h [-]</text>
<text y="2736.4"><tspan x="804.2">u</tspan><tspan x="844.5" y="2772.6" font-size="57">f</tspan><tspan x="859.9" y="2736.4">, u</tspan><tspan x="939.9" y="2772.6" font-size="57">s</tspan><tspan x="989.0" y="2736.4" letter-spacing="0.6">[m/s]</tspan></text>
</svg></body></html>
